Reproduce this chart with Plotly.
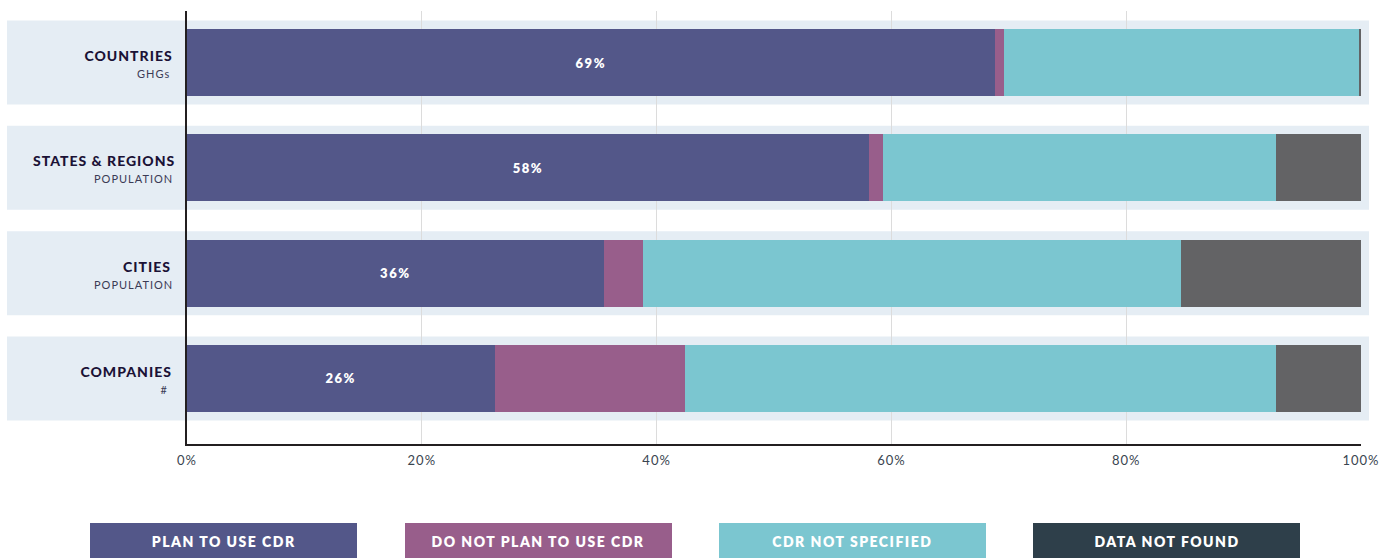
import plotly.graph_objects as go

categories = ["COUNTRIES", "STATES & REGIONS", "CITIES", "COMPANIES"]
subtitles = ["GHGs", "POPULATION", "POPULATION", "#"]
series_names = ["PLAN TO USE CDR", "DO NOT PLAN TO USE CDR", "CDR NOT SPECIFIED", "DATA NOT FOUND"]
plan = [68.8, 58.1, 35.5, 26.2]
no_plan = [0.8, 1.2, 3.3, 16.2]
not_specified = [30.3, 33.5, 45.9, 50.4]
not_found = [0.1, 7.2, 15.3, 7.2]
plan_labels = ["69%", "58%", "36%", "26%"]
x_ticks = [0, 20, 40, 60, 80, 100]
x_tick_labels = ["0%", "20%", "40%", "60%", "80%", "100%"]

bar_colors = ["#535789", "#985E8B", "#7BC6D0", "#636365"]
legend_colors = ["#535789", "#985E8B", "#7BC6D0", "#2E3F4A"]

FONT = "Lato"
W, H = 1382, 558
ML, MT = 187, 11
MR = W - 1361
MB = H - 444
PW, PH = W - ML - MR, H - MT - MB

ypos = [3 - i for i in range(len(categories))]
series = [plan, no_plan, not_specified, not_found]

fig = go.Figure()
for k, vals in enumerate(series):
    kw = {}
    if k == 0:
        kw = dict(text=plan_labels, textposition="inside", insidetextanchor="middle",
                  textfont=dict(family=FONT, size=13, color="white", weight=800),
                  texttemplate="%{text}")
    fig.add_trace(go.Bar(
        x=vals, y=ypos, orientation="h", name=series_names[k],
        marker=dict(color=bar_colors[k], line=dict(width=0)),
        width=0.636, showlegend=False, hoverinfo="skip", **kw))

def px_to_paper_x(px):
    return (px - ML) / PW

def px_to_paper_y(py):
    return (H - MB - py) / PH

shapes = []
annotations = []
for i, c in enumerate(categories):
    y = ypos[i]
    shapes.append(dict(type="rect", xref="paper", yref="y", layer="below",
                       x0=px_to_paper_x(7), x1=px_to_paper_x(1369),
                       y0=y - 0.399, y1=y + 0.399,
                       fillcolor="#E5EDF4", line=dict(width=0)))
    annotations.append(dict(xref="paper", yref="y", x=px_to_paper_x(170), y=y,
                            yshift=7, xanchor="right", yanchor="middle", showarrow=False,
                            text=c, font=dict(family=FONT, size=14, color="#1B1236", weight=900)))
    annotations.append(dict(xref="paper", yref="y", x=px_to_paper_x(170), y=y,
                            yshift=-11, xanchor="right", yanchor="middle", showarrow=False,
                            text=subtitles[i], font=dict(family=FONT, size=11, color="#3B3B55")))

# legend boxes
box_x0 = [90, 405, 719, 1033]
box_w = 267
for k, name in enumerate(series_names):
    x0 = box_x0[k]
    shapes.append(dict(type="rect", xref="paper", yref="paper",
                       x0=px_to_paper_x(x0), x1=px_to_paper_x(x0 + box_w),
                       y0=px_to_paper_y(575), y1=px_to_paper_y(523),
                       fillcolor=legend_colors[k], line=dict(width=0)))
    annotations.append(dict(xref="paper", yref="paper",
                            x=px_to_paper_x(x0 + box_w / 2), y=px_to_paper_y(541),
                            xanchor="center", yanchor="middle", showarrow=False,
                            text=name, font=dict(family=FONT, size=14, color="white", weight=800)))

fig.update_layout(
    # initial size fits inside the page's default 8px body margin; resized after load
    width=W - 16, height=H - 16,
    margin=dict(l=ML, r=MR, t=MT, b=MB, autoexpand=False),
    barmode="stack",
    paper_bgcolor="white", plot_bgcolor="rgba(0,0,0,0)",
    shapes=shapes, annotations=annotations,
    xaxis=dict(range=[0, 100], tickvals=x_ticks, ticktext=x_tick_labels,
               showgrid=True, gridcolor="#DCDCDC", gridwidth=1,
               showline=True, linecolor="#231F20", linewidth=2,
               ticks="outside", ticklen=3, tickcolor="rgba(0,0,0,0)",
               tickfont=dict(family=FONT, size=13, color="#3A4550"),
               zeroline=False, fixedrange=True, automargin=False),
    yaxis=dict(range=[-0.622, 3.489], showticklabels=False, showgrid=False,
               showline=True, linecolor="#231F20", linewidth=2,
               zeroline=False, fixedrange=True, automargin=False),
    font=dict(family=FONT),
)

n_cat_ann = 2 * len(categories)
post = """
document.body.style.margin='0';
document.body.style.overflow='hidden';
var gd = document.getElementById('{plot_id}');
gd.style.width='%dpx'; gd.style.height='%dpx';
Plotly.relayout(gd, {width: %d, height: %d}).then(function(){
  gd.querySelectorAll('text').forEach(function(t){ t.style.letterSpacing='1px'; });
  gd.querySelectorAll('.bartext text, text.bartext').forEach(function(t){ t.style.letterSpacing='1.5px'; });
  gd.querySelectorAll('.annotation').forEach(function(a){
    var idx = parseInt(a.getAttribute('data-index'));
    if (idx >= %d) { a.querySelectorAll('text').forEach(function(t){ t.style.letterSpacing='1.5px'; }); }
  });
});
""" % (W, H, W, H, n_cat_ann)
fig.write_html("out.html", post_script=post, config={"displayModeBar": False})
